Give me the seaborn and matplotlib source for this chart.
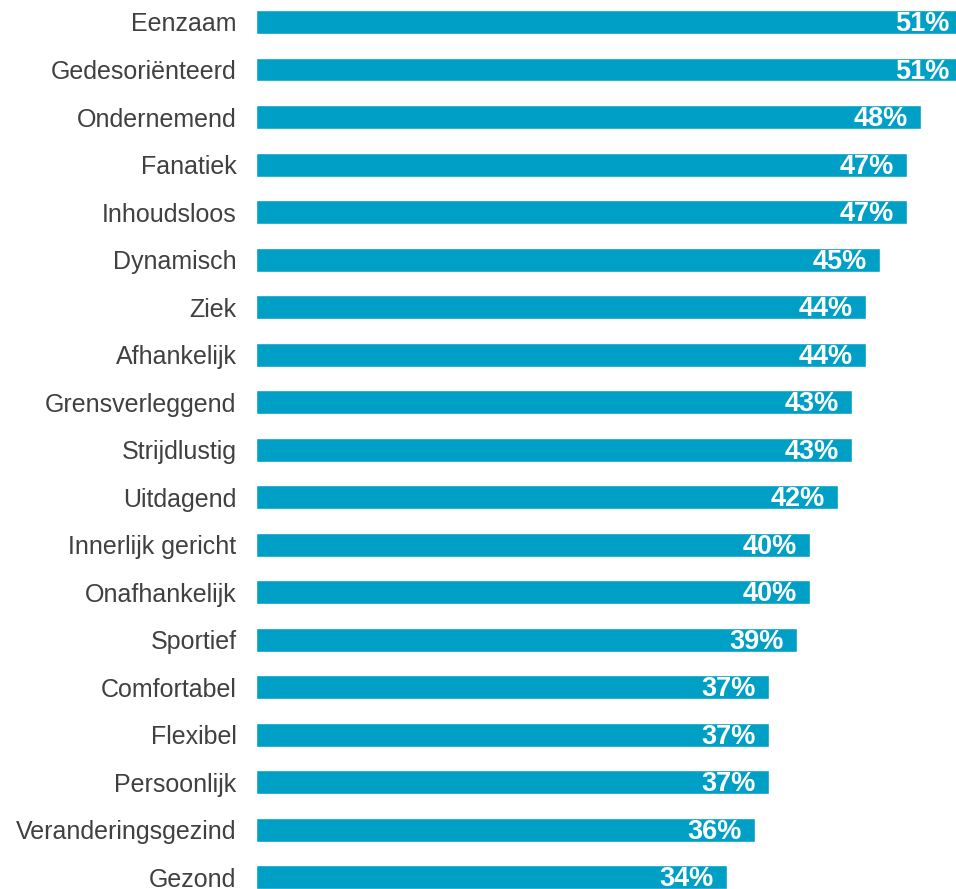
import pandas as pd
import matplotlib.pyplot as plt
import seaborn as sns

categories = ["Eenzaam", "Gedesoriënteerd", "Ondernemend", "Fanatiek", "Inhoudsloos",
              "Dynamisch", "Ziek", "Afhankelijk", "Grensverleggend", "Strijdlustig",
              "Uitdagend", "Innerlijk gericht", "Onafhankelijk", "Sportief", "Comfortabel",
              "Flexibel", "Persoonlijk", "Veranderingsgezind", "Gezond"]
values = [51, 51, 48, 47, 47, 45, 44, 44, 43, 43, 42, 40, 40, 39, 37, 37, 37, 36, 34]

df = pd.DataFrame({"kenmerk": categories, "pct": values})

sns.set_style("white")
plt.rcParams["font.family"] = ["Liberation Sans", "DejaVu Sans"]

fig = plt.figure(figsize=(9.56, 8.89), dpi=100)
ax = fig.add_axes([256 / 956, 0, 700 / 956, 1])

sns.barplot(data=df, x="pct", y="kenmerk", orient="h", color="#00A0C6",
            saturation=1, width=0.505, ax=ax)

ax.set_xlim(0, 50.5)
ax.set_ylim(18.25, -0.463)
ax.set_xlabel("")
ax.set_ylabel("")
ax.set_xticks([])
ax.tick_params(axis="y", length=0, pad=14, labelsize=18, labelcolor="#404040")
sns.despine(ax=ax, left=True, bottom=True, top=True, right=True)

for i, v in enumerate(values):
    ax.annotate(f"{v}%", xy=(v, i), xytext=(-9.5, -1.5), textcoords="offset points",
                ha="right", va="center", color="white", fontsize=19.5,
                fontweight="bold", annotation_clip=False)

fig.savefig("out.png", dpi=100)
